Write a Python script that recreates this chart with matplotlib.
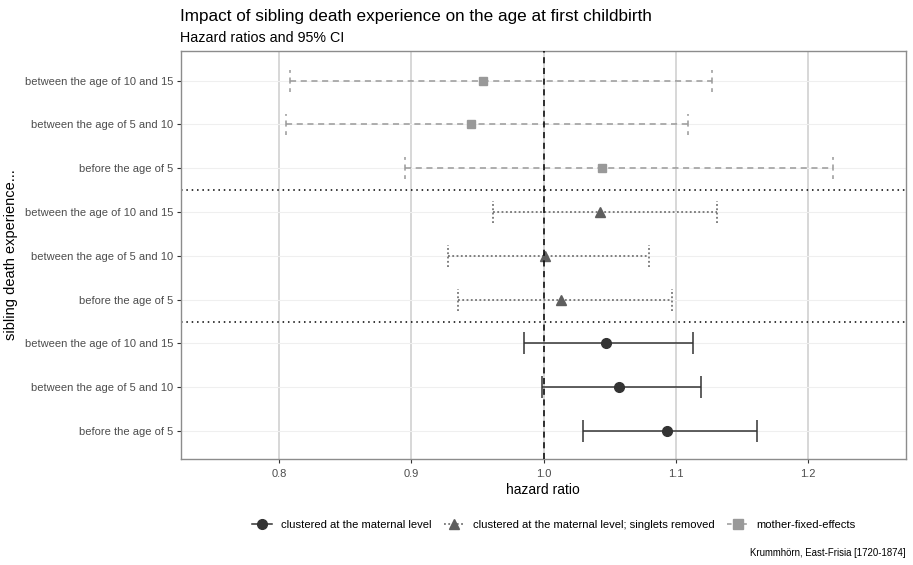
import matplotlib
matplotlib.use("Agg")
import matplotlib.pyplot as plt
from matplotlib.lines import Line2D

plt.rcParams['font.family'] = ['Liberation Sans', 'DejaVu Sans']

# Row labels (bottom to top within each model block)
periods = ["before the age of 5", "between the age of 5 and 10", "between the age of 10 and 15"]
models = ["clustered at the maternal level",
          "clustered at the maternal level; singlets removed",
          "mother-fixed-effects"]

# hazard ratios and CIs, order follows `periods`
hr_clustered = [1.093, 1.057, 1.047]
lo_clustered = [1.030, 0.999, 0.985]
hi_clustered = [1.161, 1.119, 1.113]

hr_singlets = [1.013, 1.001, 1.043]
lo_singlets = [0.935, 0.928, 0.962]
hi_singlets = [1.097, 1.080, 1.131]

hr_mfe = [1.044, 0.945, 0.954]
lo_mfe = [0.895, 0.805, 0.808]
hi_mfe = [1.219, 1.109, 1.127]

x_ticks = [0.8, 0.9, 1.0, 1.1, 1.2]

W, H = 913, 565
fig = plt.figure(figsize=(W / 100, H / 100), dpi=100)
left, right, top, bottom = 180.5, 906, 50.5, 459
ax = fig.add_axes([left / W, 1 - bottom / H, (right - left) / W, (bottom - top) / H])

series = [
    (hr_clustered, lo_clustered, hi_clustered, '#333333', '-', '-', 'o', 7.0, 0),
    (hr_singlets, lo_singlets, hi_singlets, '#5E5E5E', (0, (1.2, 1.6)), (0, (1.2, 1.6)), '^', 7.5, 3),
    (hr_mfe, lo_mfe, hi_mfe, '#999999', (0, (4, 3)), (1.5, (4, 3)), 's', 6.3, 6),
]

cap = 0.25
for hr, lo, hi, col, ls, cls, mk, ms, off in series:
    ys = [off + i for i in range(len(hr))]
    ax.hlines(ys, lo, hi, colors=col, linestyles=[ls], linewidth=1.1, zorder=3)
    ax.vlines(lo, [y - cap for y in ys], [y + cap for y in ys], colors=col,
              linestyles=[cls], linewidth=1.1, zorder=3)
    ax.vlines(hi, [y - cap for y in ys], [y + cap for y in ys], colors=col,
              linestyles=[cls], linewidth=1.1, zorder=3)
    ax.plot(hr, ys, linestyle='none', marker=mk, color=col, markersize=ms, zorder=4)

ax.axvline(1.0, color='black', linestyle=(0, (4, 3)), linewidth=1.1, zorder=5)
for yb in (2.5, 5.5):
    ax.axhline(yb, color='black', linestyle=(0, (1, 2.5)), linewidth=1.1, zorder=2)

ax.set_xlim(0.7256, 1.2739)
ax.set_ylim(-0.64, 8.69)
ax.set_xticks(x_ticks)
ax.set_xticklabels([f"{t:.1f}" for t in x_ticks])
ax.set_yticks(range(9))
ax.set_yticklabels(periods * 3)

for t in x_ticks:
    ax.axvline(t, color='#D4D4D4', linewidth=1.3, zorder=1)
for y in range(9):
    ax.axhline(y, color='#EFEFEF', linewidth=0.8, zorder=1)

for s in ax.spines.values():
    s.set_color('#8C8C8C')
    s.set_linewidth(1.0)
ax.tick_params(axis='both', colors='#333333', labelcolor='#4D4D4D',
               length=3, width=0.8, labelsize=8)
ax.tick_params(axis='x', pad=4)
ax.tick_params(axis='y', pad=2)

ax.set_xlabel("hazard ratio", fontsize=10, color='black', labelpad=3)
ax.set_ylabel("sibling death experience...", fontsize=10.5, color='black', labelpad=5)

fig.text(180 / W, 1 - 17 / H, "Impact of sibling death experience on the age at first childbirth",
         fontsize=12.3, ha='left', va='center', color='black')
fig.text(180 / W, 1 - 38 / H, "Hazard ratios and 95% CI",
         fontsize=10.3, ha='left', va='center', color='black')
fig.text(906 / W, 1 - 553 / H, "Krummhörn, East-Frisia [1720-1874]",
         fontsize=6.9, ha='right', va='center', color='black')

handles = [
    Line2D([], [], color='#333333', linestyle='-', marker='o', markersize=7, linewidth=1.1),
    Line2D([], [], color='#5E5E5E', linestyle=(0, (1.2, 1.6)), marker='^', markersize=7.5, linewidth=1.1),
    Line2D([], [], color='#999999', linestyle=(0, (3, 2)), marker='s', markersize=6.5, linewidth=1.1),
]
fig.legend(handles, models, loc='center', bbox_to_anchor=(554 / W, 1 - 525 / H), ncol=3,
           frameon=False, fontsize=8.1, handlelength=1.8, columnspacing=1.1, handletextpad=0.8)

fig.savefig("out.png", dpi=100)
